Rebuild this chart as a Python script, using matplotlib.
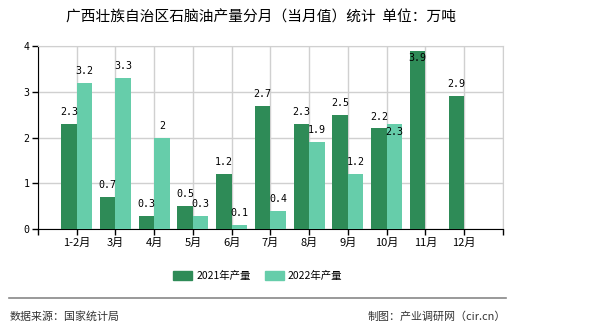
import numpy as np
import matplotlib
matplotlib.use("Agg")
import matplotlib.pyplot as plt
from matplotlib.patches import Patch

plt.rcParams['font.family'] = ['Noto Sans CJK SC', 'DejaVu Sans']

months = ['1-2月', '3月', '4月', '5月', '6月', '7月', '8月', '9月', '10月', '11月', '12月']
v2021 = [2.3, 0.7, 0.3, 0.5, 1.2, 2.7, 2.3, 2.5, 2.2, 3.9, 2.9]
v2022 = [3.2, 3.3, 2, 0.3, 0.1, 0.4, 1.9, 1.2, 2.3, None, None]

c1 = '#2e8b57'
c2 = '#66cdaa'
mono = ['DejaVu Sans Mono']

fig = plt.figure(figsize=(5.9, 3.3), dpi=100)
ax = fig.add_axes([0.0644, 0.3052, 0.788, 0.5554])

x = np.arange(len(months))
w = 0.4
ax.bar(x - w / 2, v2021, w, color=c1, zorder=3)
x2 = [i for i, v in enumerate(v2022) if v is not None]
y2 = [v for v in v2022 if v is not None]
ax.bar(np.array(x2) + w / 2, y2, w, color=c2, zorder=3)

# value labels (two of them sit inside the bar top, as in the original)
for i, v in enumerate(v2021):
    if v > 3.7:
        ax.annotate('{:g}'.format(v), (i - w / 2, v), xytext=(0, -2), textcoords='offset points',
                    ha='center', va='top', fontsize=7.2, family=mono, zorder=4)
    else:
        ax.annotate('{:g}'.format(v), (i - w / 2, v), xytext=(0, 5), textcoords='offset points',
                    ha='center', va='bottom', fontsize=7.2, family=mono, zorder=4)
for i, v in zip(x2, y2):
    if i == 8:
        ax.annotate('{:g}'.format(v), (i + w / 2, v), xytext=(0, -2), textcoords='offset points',
                    ha='center', va='top', fontsize=7.2, family=mono, zorder=4)
    else:
        ax.annotate('{:g}'.format(v), (i + w / 2, v), xytext=(0, 5), textcoords='offset points',
                    ha='center', va='bottom', fontsize=7.2, family=mono, zorder=4)

ax.set_xlim(-1, len(months))
ax.set_ylim(0, 4)
ax.set_xticks(np.arange(-1, len(months) + 1))
ax.set_xticklabels([''] + months + [''], fontsize=8)
ax.set_yticks([0, 1, 2, 3, 4])
ax.set_yticklabels(['0', '1', '2', '3', '4'], family=mono, fontsize=7.2)
ax.tick_params(axis='both', length=4, width=1, color='black', pad=2)
ax.grid(True, color='#d0d0d0', linewidth=1, zorder=0)
ax.spines['top'].set_color('#d0d0d0')
ax.spines['right'].set_color('#d0d0d0')
ax.spines['left'].set_color('black')
ax.spines['bottom'].set_color('black')

fig.text(0.443, 0.948, '广西壮族自治区石脑油产量分月（当月值）统计  单位：万吨', ha='center', va='center', fontsize=10.6)

handles = [Patch(color=c1, label='2021年产量'), Patch(color=c2, label='2022年产量')]
fig.legend(handles=handles, loc='center', bbox_to_anchor=(0.437, 0.163), ncol=2, frameon=False,
           fontsize=7.5, handlelength=1.8, handleheight=0.9, columnspacing=1.4, handletextpad=0.4)

fig.add_artist(plt.Line2D([0.015, 0.858], [0.097, 0.097], color='#888888', linewidth=1.2))
fig.text(0.017, 0.04, '数据来源：国家统计局', ha='left', va='center', fontsize=7.9, color='#333333')
fig.text(0.857, 0.04, '制图：产业调研网（cir.cn）', ha='right', va='center', fontsize=7.9, color='#333333')

fig.savefig('out.png', dpi=100)
